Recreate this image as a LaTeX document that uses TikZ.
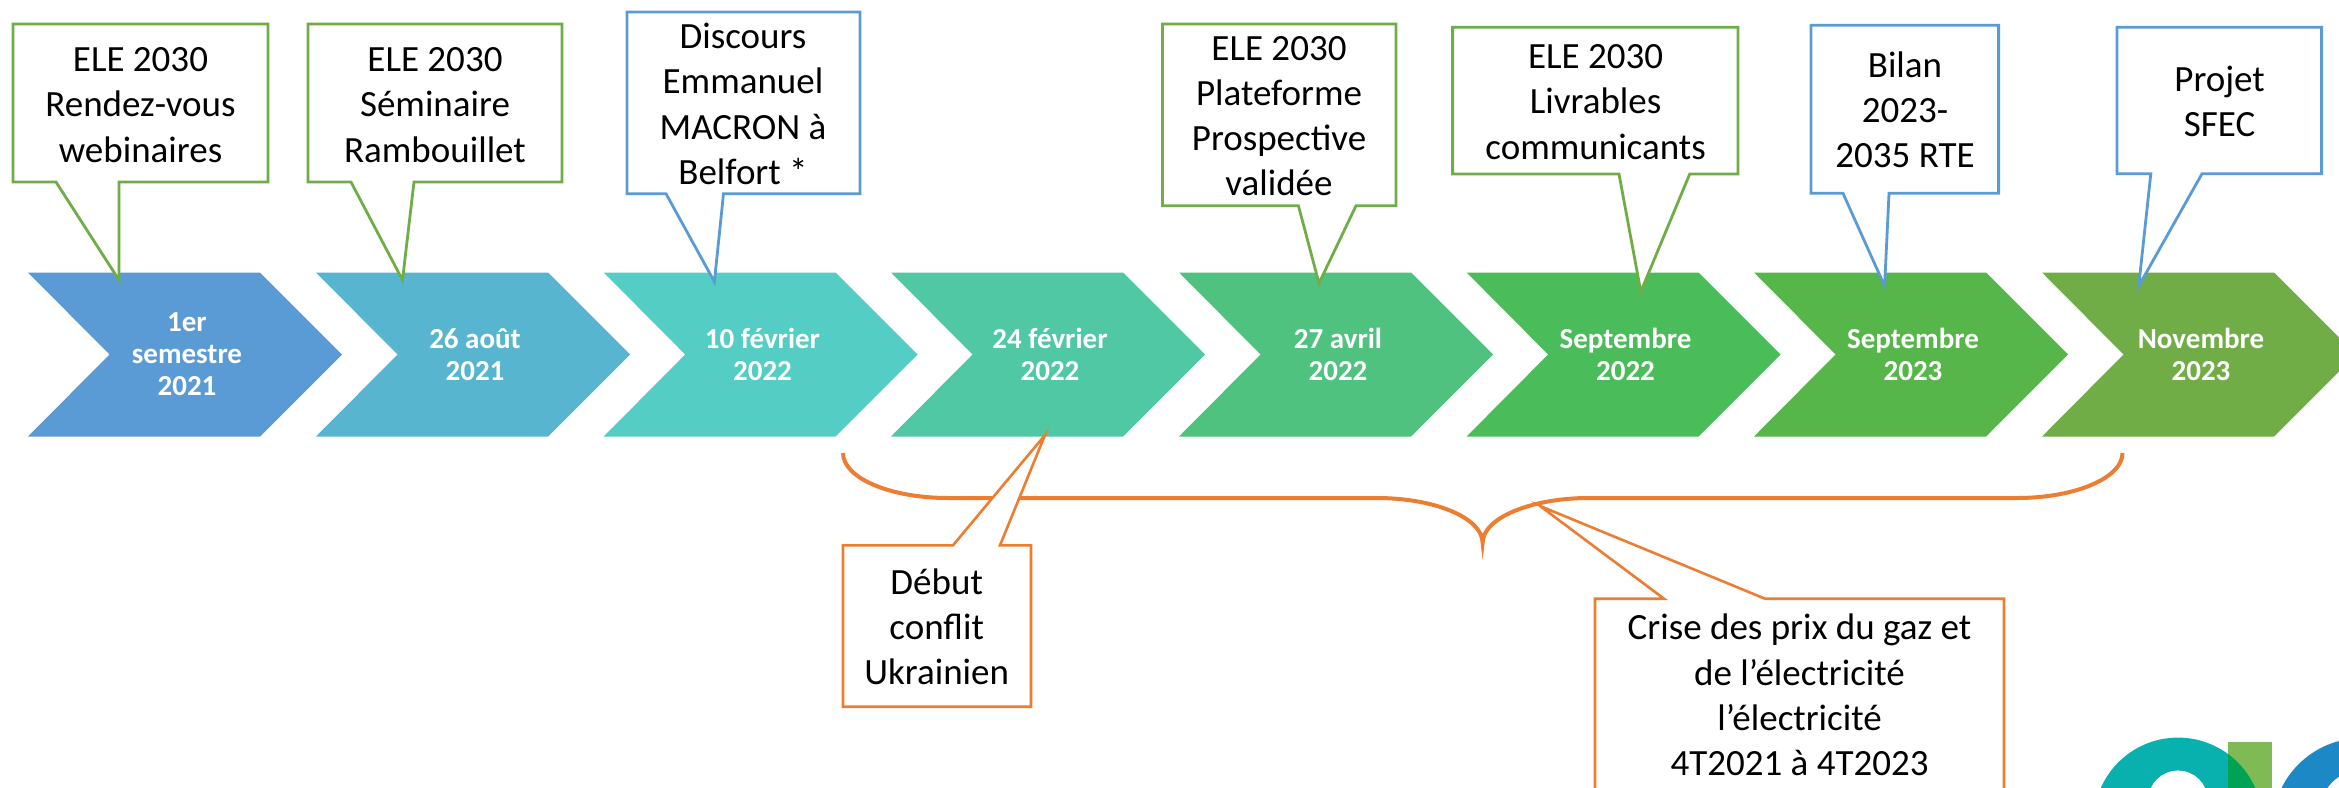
\documentclass[tikz,border=0pt]{standalone}
\usepackage{fontspec}
\setmainfont{Carlito}
\definecolor{calgreen}{HTML}{70AD47}
\definecolor{calblue}{HTML}{5B9BD5}
\definecolor{calorange}{HTML}{ED7D31}
\definecolor{cha}{HTML}{5B9BD5}
\definecolor{chb}{HTML}{58B5D0}
\definecolor{chc}{HTML}{54CDC4}
\definecolor{chd}{HTML}{50C8A3}
\definecolor{che}{HTML}{4EC27E}
\definecolor{chf}{HTML}{4ABC5A}
\definecolor{chg}{HTML}{56B64A}
\definecolor{chh}{HTML}{70AD47}
\definecolor{logoteal}{HTML}{08B0AE}
\definecolor{logolime}{HTML}{7FBA55}
\definecolor{logomix}{HTML}{00A353}
\definecolor{logoblue}{HTML}{1C89C6}
\tikzset{
  chevtext/.style={text=white,align=center,font=\fontsize{29}{32}\bfseries\selectfont,inner sep=0pt},
  calltext/.style={text=black,align=center,font=\fontsize{37}{45.2}\selectfont,inner sep=0pt},
  callgreen/.style={draw=calgreen,fill=white,line width=2.8pt,line join=miter},
  callblue/.style={draw=calblue,fill=white,line width=2.8pt,line join=miter},
  callorange/.style={draw=calorange,fill=white,line width=2.6pt,line join=miter},
  bracket/.style={draw=calorange,line width=4pt}
}
% name, left edge, colour, text centre x, text
\newcommand{\chevshape}[5]{%
  \fill[#3] (#2,272.5) -- ++(232,0) -- ++(82,82) -- ++(-82,82) -- ++(-232,0) -- ++(81.5,-82) -- cycle;
  \node[chevtext] (#1) at (#4,354.5) {#5};
}
% style, left, top, right, bottom, tail-left, tail-right, tip x, tip y
\newcommand{\callbox}[9]{%
  \draw[#1] (#2,#3) -- (#4,#3) -- (#4,#5) -- (#7,#5) -- (#8,#9) -- (#6,#5) -- (#2,#5) -- cycle;
}
\begin{document}
\begin{tikzpicture}[x=1pt,y=-1pt]
\useasboundingbox (0,0) rectangle (2339,787);
\clip (0,0) rectangle (2339,787);
\fill[white] (0,0) rectangle (2339,787);

% logo
\begin{scope}
  \clip (2178,822) circle[radius=84.4];
  \fill[logoteal] (2090,730) rectangle (2270,790);
  \fill[white] (2178,800.4) circle[radius=29.7];
\end{scope}
\fill[logolime] (2228,741.7) rectangle (2272,790);
\begin{scope}
  \clip (2178,822) circle[radius=84.4];
  \fill[logomix] (2228,741.7) rectangle (2272,790);
  \fill[white] (2178,800.4) circle[radius=29.7];
\end{scope}
\begin{scope}
  \clip (2362,827.8) circle[radius=89.8];
  \fill[logoblue] (2270,730) rectangle (2345,790);
  \fill[white] (2362,812) circle[radius=42];
\end{scope}

% chevrons
\chevshape{cha1}{28}{cha}{187}{1er\\semestre\\2021}
\chevshape{cha2}{316}{chb}{475}{26 août\\2021}
\chevshape{cha3}{603.7}{chc}{762.5}{10 février\\2022}
\chevshape{cha4}{891}{chd}{1050}{24 février\\2022}
\chevshape{cha5}{1179}{che}{1338}{27 avril\\2022}
\chevshape{cha6}{1466.6}{chf}{1625.5}{Septembre\\2022}
\chevshape{cha7}{1754}{chg}{1913}{Septembre\\2023}
\chevshape{cha8}{2042}{chh}{2201}{Novembre\\2023}

% brace
\draw[bracket] (843,453) .. controls (843,478) and (890,498) .. (948,498)
  -- (1376.5,498) .. controls (1435,498) and (1482.6,518) .. (1482.6,543)
  .. controls (1482.6,518) and (1531,498) .. (1589,498)
  -- (2017,498) .. controls (2075,498) and (2122.5,478) .. (2122.5,453);

% callouts above
\callbox{callgreen}{13}{24}{268}{182}{56}{119}{119}{280}
\node[calltext] (c1) at (140.5,105) {ELE 2030\\Rendez-vous\\webinaires};
\callbox{callgreen}{308}{24}{562}{182}{351}{414}{402.5}{280}
\node[calltext] (c2) at (435,105) {ELE 2030\\Séminaire\\Rambouillet};
\callbox{callblue}{627}{12}{860}{193.7}{666}{723.5}{714.4}{281.7}
\node[calltext] (c3) at (743,104) {Discours\\Emmanuel\\MACRON à\\Belfort *};
\callbox{callgreen}{1162.4}{24}{1396}{205.7}{1298.4}{1356}{1319}{283.3}
\node[calltext] (c5) at (1279,116) {ELE 2030\\Plateforme\\Prospective\\validée};
\callbox{callgreen}{1452.6}{27.3}{1738}{174}{1619}{1689.7}{1640.8}{291.7}
\node[calltext] (c6) at (1595.6,102) {ELE 2030\\Livrables\\communicants};
\callbox{callblue}{1811}{25.3}{1998.6}{193.3}{1843}{1889}{1884.6}{286}
\node[calltext] (c7) at (1905,110) {Bilan\\2023-\\2035 RTE};
\callbox{callblue}{2117}{27.3}{2321.6}{173.7}{2150.8}{2202}{2138.7}{286}
\node[calltext] (c8) at (2219.6,101.5) {Projet\\SFEC};

% callouts below
\draw[callorange] (843,545.3) -- (953,545.3) -- (1045,435) -- (1000,545.3) -- (1031,545.3) -- (1031,706.7) -- (843,706.7) -- cycle;
\node[calltext] (c4) at (936.7,627) {Début\\conflit\\Ukrainien};
\draw[callorange] (1595,598.7) -- (1664,598.7) -- (1540,506) -- (1765,598.7) -- (2004,598.7) -- (2004,820) -- (1595,820) -- cycle;
\node[calltext] (c9) at (1799.5,695) {Crise des prix du gaz et\\de l’électricité\\l’électricité\\4T2021 à 4T2023};
\end{tikzpicture}
\end{document}
